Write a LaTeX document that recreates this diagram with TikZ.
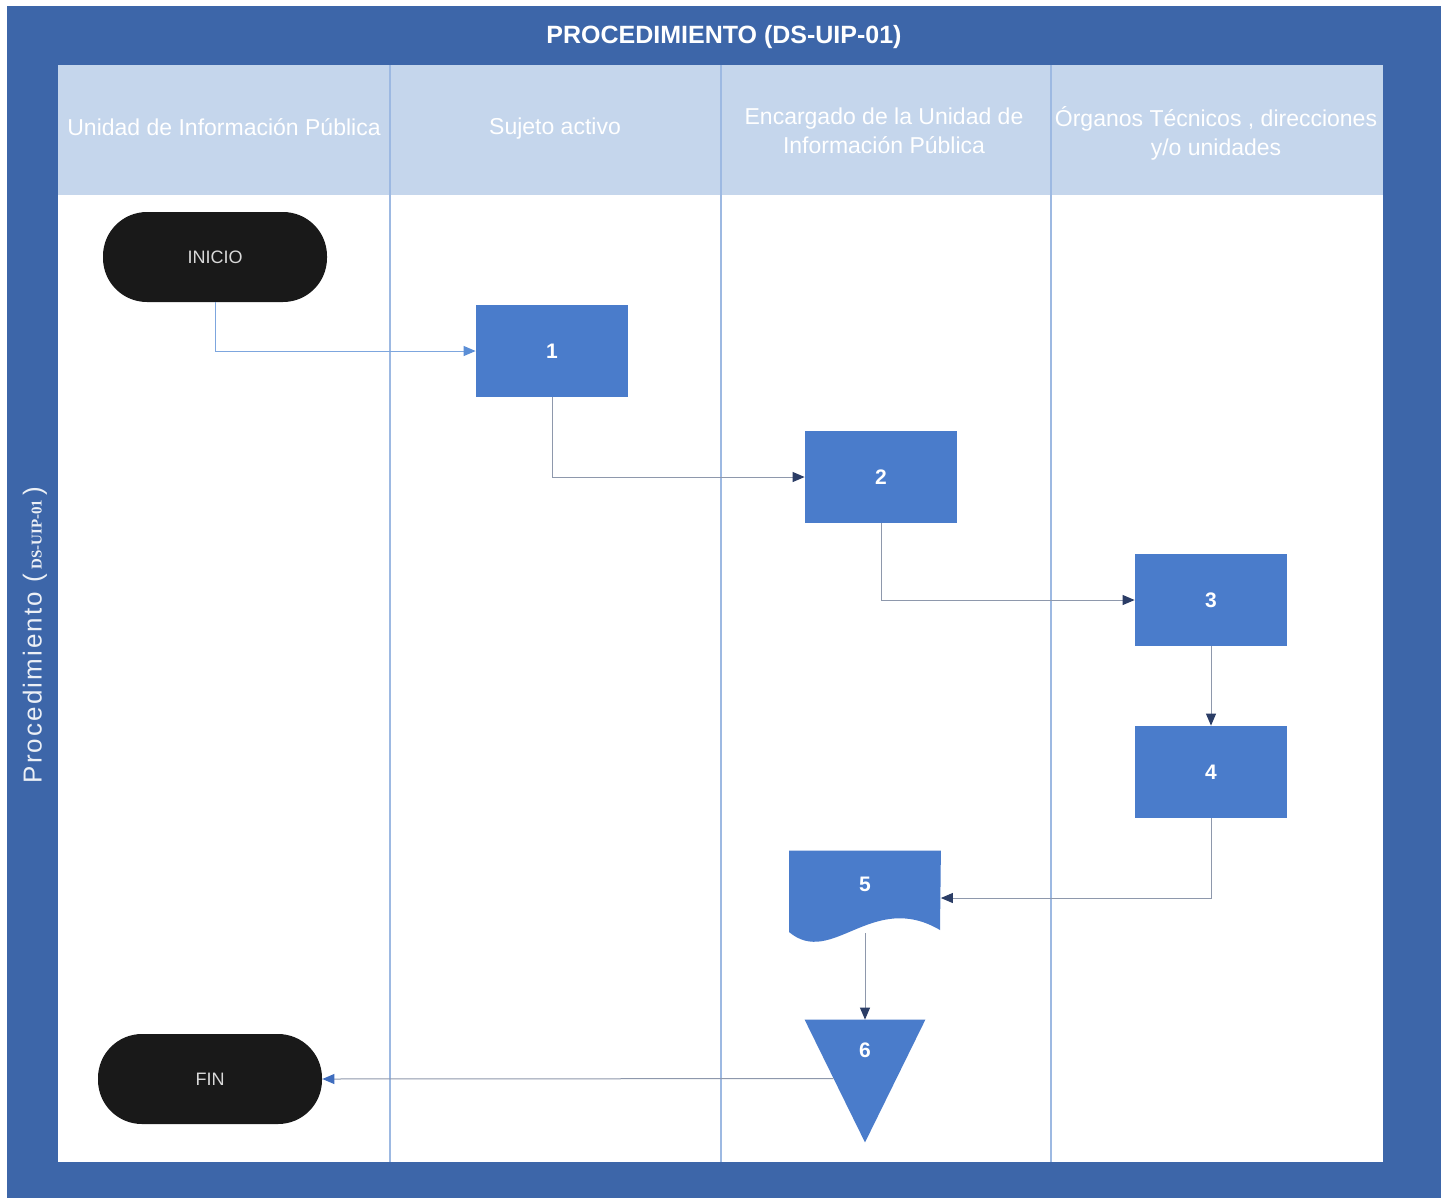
\documentclass[tikz,border=0pt]{standalone}
\usepackage{fontspec}
\setmainfont{Liberation Sans}
\newfontfamily\serifpart{Liberation Serif}
\usetikzlibrary{arrows.meta,calc}
\definecolor{frameblue}{HTML}{3D66A9}
\definecolor{headblue}{HTML}{C5D6EC}
\definecolor{boxblue}{HTML}{4A7CCB}
\definecolor{laneline}{HTML}{9DB9E2}
\definecolor{flowgray}{HTML}{8E98AC}
\definecolor{tipnavy}{HTML}{2B3D66}
\definecolor{tipblue}{HTML}{3F6DBE}
\definecolor{startblue}{HTML}{7DA6DE}
\definecolor{starttip}{HTML}{5B8ED6}

\begin{document}
\begin{tikzpicture}[x=0.5pt, y=-0.5pt,
	proc/.style={fill=boxblue, minimum width=76pt, minimum height=46pt, inner sep=0pt, text=white, font=\bfseries\fontsize{10.5}{12}\selectfont},
	numlbl/.style={text=white, inner sep=0pt, font=\bfseries\fontsize{10.5}{12}\selectfont},
	term/.style={fill=black!90, rounded corners=22pt, minimum width=112pt, minimum height=45pt, text=white!85!black, font=\fontsize{9}{10}\selectfont},
	flow/.style={draw=flowgray, line width=0.5pt, -{Triangle[length=6pt, width=5pt, color=tipnavy]}},
	startflow/.style={draw=startblue, line width=0.5pt, -{Triangle[length=6pt, width=5pt, color=starttip]}},
	lanehead/.style={text=white, align=center, font=\fontsize{11.5}{14.5}\selectfont}]
	\useasboundingbox (0,0) rectangle (1446,1200);
	% marco y carriles
	\fill[frameblue] (7,6) rectangle (1441,1198);
	\fill[headblue] (58,65) rectangle (1383,195);
	\fill[white] (58,195) rectangle (1383,1162);
	\foreach \x in {390,721,1051}
		\draw[laneline, line width=0.6pt] (\x,65) -- (\x,1162);
	\node[text=white, font=\bfseries\fontsize{12.5}{15}\selectfont] (title) at (724,37) {PROCEDIMIENTO (DS-UIP-01)};
	\node[rotate=90, text=white!90!frameblue, font=\addfontfeature{LetterSpace=8}\fontsize{13}{15}\selectfont] (side) at (35,635)
		{Procedimiento (\,{\serifpart\bfseries\fontsize{7.5}{9}\selectfont DS-UIP-01}\,)};
	\node[lanehead] (h1) at (224,127) {Unidad de Información Pública};
	\node[lanehead] (h2) at (555,129) {Sujeto activo};
	\node[lanehead] (h3) at (884,131) {Encargado de la Unidad de\\Información Pública};
	\node[lanehead] (h4) at (1216,133) {Órganos Técnicos , direcciones\\y/o unidades};
	% pasos
	\node[term] (inicio) at (215,257) {INICIO};
	\node[proc] (p1) at (552,351) {1};
	\node[proc] (p2) at (881,477) {2};
	\node[proc] (p3) at (1211,600) {3};
	\node[proc] (p4) at (1211,772) {4};
	\node[minimum width=75.5pt, minimum height=41pt, inner sep=0pt] (p5) at (865,892) {};
	\fill[boxblue] (p5.north west) -- (p5.north east) -- (940,930) .. controls (872,890) and (832,968) .. (789,932) -- cycle;
	\node[numlbl] (n5) at ($(p5.center)+(0,-8)$) {5};
	\node[minimum width=60pt, minimum height=61pt, inner sep=0pt] (p6) at (865,1081) {};
	\fill[boxblue] (p6.north west) -- (p6.north east) -- (p6.south) -- cycle;
	\node[numlbl] (n6) at ($(p6.center)+(0,-31)$) {6};
	\node[term] (fin) at (210,1079) {FIN};
	% conectores
	\draw[startflow] (inicio.south) |- (p1.west);
	\draw[flow] (p1.south) |- (p2.west);
	\draw[flow] (p2.south) |- (p3.west);
	\draw[flow] (p3.south) -- (p4.north);
	\draw[flow] (p4.south) |- ([yshift=-3pt]p5.east);
	\draw[flow] (p5.south) -- (p6.north);
	\draw[flow, -{Triangle[length=6pt, width=5pt, color=tipblue]}] ($(p6.north west)!0.48!(p6.south)$) -- (fin.east);
\end{tikzpicture}
\end{document}
